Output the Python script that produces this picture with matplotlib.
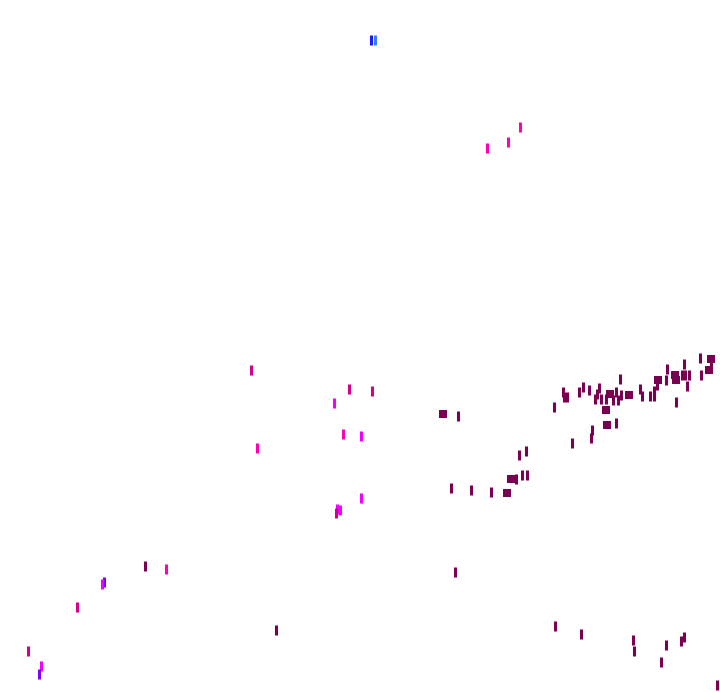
import matplotlib
matplotlib.use("Agg")
import matplotlib.pyplot as plt

# Point positions (x grows right, y grows downward)
bar_x = [700, 711, 684, 667, 682, 685, 689, 701, 666, 687, 657, 640, 654, 620, 599,
         583, 589, 563, 564, 567, 579, 597, 616, 621, 642, 650, 654, 595, 601, 606,
         613, 618, 554, 676, 616, 592, 591, 572, 526, 519, 516, 522, 527, 451, 471,
         491, 458, 555, 581, 633, 634, 666, 681, 684, 661, 717, 455, 276,
         251, 349, 372, 334, 343, 361, 257, 361, 337, 340, 336,
         145, 166, 104, 102, 77, 28, 41, 39,
         520, 508, 487, 371, 375]
bar_y = [358, 365, 364, 369, 375, 375, 375, 375, 380, 386, 385, 389, 391, 379, 388,
         387, 390, 392, 397, 397, 392, 394, 392, 395, 396, 396, 396, 399, 399, 399,
         400, 400, 407, 402, 423, 430, 438, 443, 451, 455, 479, 475, 475, 488, 490,
         492, 416, 626, 634, 640, 651, 645, 641, 637, 662, 685, 572, 630,
         370, 389, 391, 403, 434, 436, 448, 498, 509, 510, 513,
         566, 569, 582, 584, 607, 651, 666, 674,
         127, 142, 148, 40, 40]
bar_group = ["dark"] * 58 + \
            ["rose", "rose", "rose", "magenta", "pink", "magenta", "pink", "magenta",
             "magenta", "magenta", "rose",
             "dark", "pink", "violet", "magenta", "rose", "rose", "magenta", "violet",
             "pink", "pink", "pink", "navy", "sky"]

block_x = [711, 709, 675, 658, 676, 610, 629, 606, 607, 511, 507, 443]
block_y = [359, 370, 375, 380, 380, 394, 395, 410, 425, 479, 493, 414]

palette = {"dark": "#7a0052", "rose": "#d4008a", "pink": "#ff00b4",
           "magenta": "#f000ff", "violet": "#7f00ff", "navy": "#1a1aff",
           "sky": "#3a7cff"}

fig = plt.figure(figsize=(7.2, 6.92), dpi=100)
ax = fig.add_axes([0, 0, 1, 1])
ax.set_xlim(0, 720)
ax.set_ylim(692, 0)
ax.axis("off")

ax.scatter(bar_x, bar_y, marker="|", s=60, linewidths=2.2,
           c=[palette[g] for g in bar_group])
ax.scatter(block_x, block_y, marker="s", s=26, linewidths=0, c=palette["dark"])

fig.savefig("out.png", dpi=100, facecolor="white")
